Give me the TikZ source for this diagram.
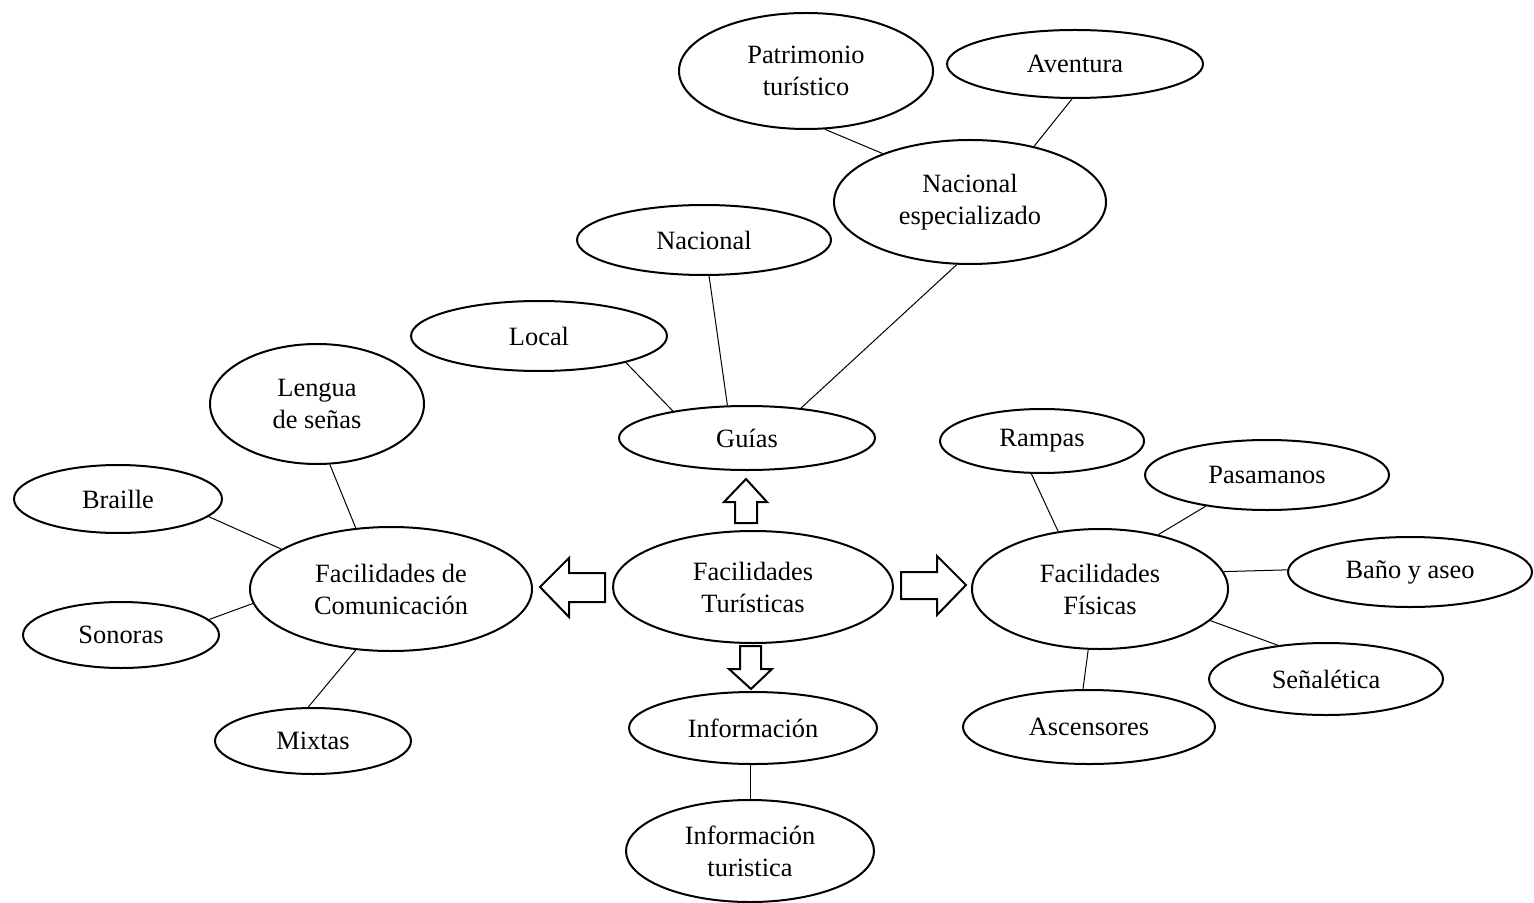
\documentclass[tikz,border=0pt]{standalone}
\usepackage{fontspec}
\setmainfont{Liberation Serif}
\usetikzlibrary{shapes.geometric}
\tikzset{
  bub/.style={draw, ellipse, line width=1pt, inner sep=0pt, align=center,
    font=\fontsize{13.2}{16}\selectfont},
  link/.style={line width=0.5pt},
  blockarrow/.style={draw, line width=1pt, line join=miter, fill=white}
}
\newcommand{\bubble}[6]{\node[bub, minimum width=#4pt, minimum height=#5pt] (#1) at (#2,#3) {#6};}
\begin{document}
\begin{tikzpicture}[x=0.5pt,y=-0.5pt]
\useasboundingbox (0,0) rectangle (1534,903);
% nodes: name, cx, cy, width(pt)=rx px, height(pt)=ry px
\bubble{pat}{806}{71}{127}{58}{Patrimonio\\turístico}
\bubble{ave}{1075}{64}{128}{34}{Aventura}
\bubble{nes}{970}{202}{136}{62}{Nacional\\especializado}
\bubble{nac}{704}{240}{127}{35}{Nacional}
\bubble{loc}{539}{336}{128}{35}{Local}
\bubble{gui}{747}{438}{128}{32}{Guías}
\bubble{len}{317}{404}{107}{60}{Lengua\\de señas}
\bubble{bra}{118}{499}{104}{34}{Braille}
\bubble{fdc}{391}{589}{141}{62}{Facilidades de\\Comunicación}
\bubble{son}{121}{635}{98}{33}{Sonoras}
\bubble{mix}{313}{741}{98}{33}{Mixtas}
\bubble{ft}{753}{587}{140}{56}{Facilidades\\Turísticas}
\bubble{inf}{753}{728}{124}{36}{Información}
\bubble{int}{750}{851}{124}{51}{Información\\turistica}
\bubble{ram}{1042}{441}{102}{32}{Rampas}
\bubble{pas}{1267}{475}{122}{35}{Pasamanos}
\bubble{ff}{1100}{589}{128}{60}{Facilidades\\Físicas}
\bubble{ban}{1410}{572}{122}{35}{Baño y aseo}
\bubble{sen}{1326}{679}{117}{36}{Señalética}
\bubble{asc}{1089}{727}{126}{37}{Ascensores}
% connectors
\draw[link] (pat.-72) -- (nes.151);
\draw[link] (ave.-95) -- (nes.41);
\draw[link] (nes.-102) -- (gui.29);
\draw[link] (nac.-82) -- (gui.121);
\draw[link] (loc.-17) -- (gui.160);
\draw[link] (len.-78) -- (fdc.120);
\draw[link] (bra.-11) -- (fdc.160);
\draw[link] (son.10) -- (fdc.-174);
\draw[link] (mix.98) -- (fdc.-120);
\draw[link] (int.north) -- (int.north |- inf.south);
\draw[link] (ram.-108) -- (ff.126);
\draw[link] (pas.-153) -- (ff.43);
\draw[link] (ban.179) -- (ff.8);
\draw[link] (sen.145) -- (ff.-16);
\draw[link] (asc.99) -- (ff.-101);
% block arrows
\draw[blockarrow] (746,479) -- (767,502) -- (757,502) -- (757,523) -- (735,523) -- (735,502) -- (724,502) -- cycle;
\draw[blockarrow] (751,689) -- (772,669) -- (761,669) -- (761,646) -- (740,646) -- (740,669) -- (729,669) -- cycle;
\draw[blockarrow] (540,587) -- (569,558) -- (569,573) -- (605,573) -- (605,602) -- (569,602) -- (569,617) -- cycle;
\draw[blockarrow] (966,585) -- (937,556) -- (937,572) -- (901,572) -- (901,599) -- (937,599) -- (937,615) -- cycle;
\end{tikzpicture}
\end{document}
